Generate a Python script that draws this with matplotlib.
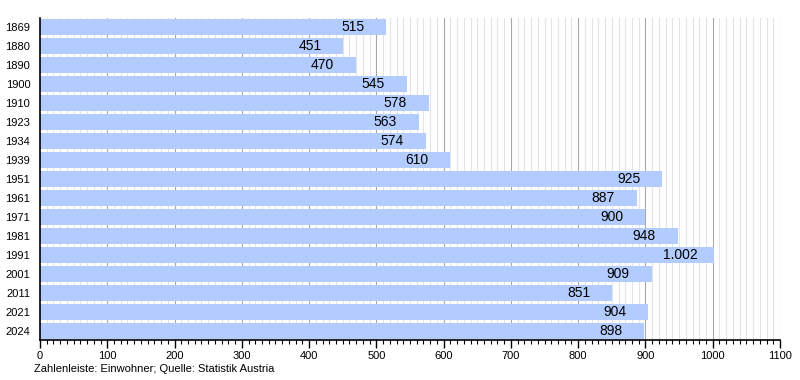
import matplotlib.pyplot as plt
import numpy as np

plt.rcParams['font.family'] = ['Liberation Sans', 'DejaVu Sans']

# population by census year
years = ['1869', '1880', '1890', '1900', '1910', '1923', '1934', '1939',
         '1951', '1961', '1971', '1981', '1991', '2001', '2011', '2021', '2024']
population = [515, 451, 470, 545, 578, 563, 574, 610,
              925, 887, 900, 948, 1002, 909, 851, 904, 898]

fig = plt.figure(figsize=(8, 3.8), dpi=100)
ax = fig.add_axes([0.05, 0.105, 0.925, 0.848])

pos = np.arange(len(years))
ax.barh(pos, population, height=0.84, color='#b3ccff', zorder=2)

# grid: light every 10, darker every 100
for x in range(10, 1101, 10):
    if x % 100 == 0:
        ax.axvline(x, color='#a8a8a8', lw=0.8, zorder=1)
    else:
        ax.axvline(x, color='#e4e4e4', lw=0.8, zorder=1)

for p, v in zip(pos, population):
    label = f'{v:,}'.replace(',', '.')
    ax.text(v - 50, p, label, ha='center', va='center', fontsize=10, zorder=3)

ax.set_xlim(0, 1100)
ax.set_ylim(len(years) - 0.5, -0.5)
ax.set_yticks(pos)
ax.set_yticklabels(years, fontsize=8)
ax.tick_params(axis='y', length=0, pad=7)

ax.set_xticks(range(0, 1101, 100))
ax.set_xticks(range(0, 1101, 10), minor=True)
ax.tick_params(axis='x', which='major', length=6, width=1, labelsize=8, pad=2)
ax.tick_params(axis='x', which='minor', length=3, width=0.8)

for s in ['top', 'right']:
    ax.spines[s].set_visible(False)
ax.spines['left'].set_linewidth(1.2)
ax.spines['bottom'].set_linewidth(1.2)

fig.text(0.043, 0.029, 'Zahlenleiste: Einwohner; Quelle: Statistik Austria',
         fontsize=8, va='center')

fig.savefig('out.png', dpi=100)
